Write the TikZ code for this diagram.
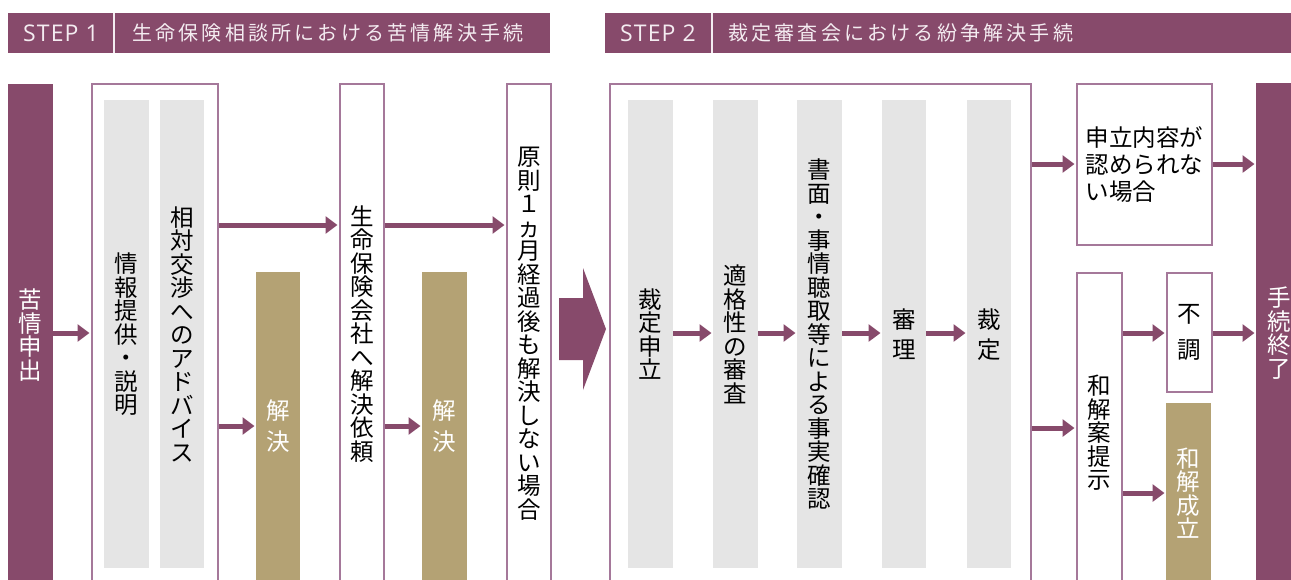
\documentclass[tikz,border=0pt]{standalone}
\usepackage{fontspec}
\setmainfont{Noto Sans CJK JP}
\newfontfamily\headfont[LetterSpace=16]{Noto Sans CJK JP}
\newfontfamily\stepfont[LetterSpace=5]{Open Sans}
\usetikzlibrary{arrows.meta,positioning}

\definecolor{plum}{HTML}{874A6B}
\definecolor{plumline}{HTML}{A5789A}
\definecolor{sand}{HTML}{B4A274}
\definecolor{pale}{HTML}{E5E5E5}
\definecolor{headtext}{HTML}{F4ECF1}

\newcommand\vfont{\fontsize{23.5}{23.5}\selectfont\lineskiplimit=-50pt\relax}

\tikzset{
  sz/.style 2 args={minimum width=#1pt, minimum height=#2pt},
  box/.style={anchor=north west, inner sep=0pt, align=center, font=\vfont, text=black},
  frame/.style={box, draw=plumline, line width=1.5pt, fill=white},
  grey/.style={box, fill=pale},
  gold/.style={box, fill=sand, text=white},
  plumbox/.style={box, fill=plum, text=white},
  arr/.style={draw=plum, line width=5pt, -{Triangle[length=12pt,width=17pt]}, shorten >=1.5pt},
  steplabel/.style={text=headtext, inner sep=0pt, font=\stepfont\fontsize{23}{23}\selectfont},
  titlelabel/.style={text=headtext, inner sep=0pt, anchor=west, font=\headfont\fontsize{20}{20}\selectfont}
}

\begin{document}
\begin{tikzpicture}[x=1pt, y=-1pt]
  \useasboundingbox (0,0) rectangle (1291,579);

  \node[box, fill=plum, sz={542}{40}] (head1) at (8,13) {};
  \node[box, fill=plum, sz={700}{40}] (head2) at (605,13) {};
  \draw[headtext, line width=1.5pt] (114,13) -- (114,53) (712,13) -- (712,53);
  \node[steplabel] (step1) at (61,33) {STEP 1};
  \node[titlelabel] (title1) at (132,33) {生命保険相談所における苦情解決手続};
  \node[steplabel] (step2) at (658,33) {STEP 2};
  \node[titlelabel] (title2) at (728,33) {裁定審査会における紛争解決手続};

  \node[plumbox, sz={45}{502}] (kujo) at (8,84) {苦\\情\\申\\出};
  \node[frame, sz={126}{500}] (box1) at (91,83) {};
  \node[grey, sz={45}{468}] (joho) at (104,100) {情\\報\\提\\供\\・\\説\\明};
  \node[grey, sz={44}{468}] (sotai) at (160,100) {相\\対\\交\\渉\\へ\\の\\ア\\ド\\バ\\イ\\ス};
  \node[gold, sz={44}{308}] (kai1) at (256,272) {解\\[8pt]決};
  \node[frame, sz={44}{500}] (kaisha) at (339,83) {生\\命\\保\\険\\会\\社\\へ\\解\\決\\依\\頼};
  \node[gold, sz={45}{308}] (kai2) at (422,272) {解\\[8pt]決};
  \node[frame, sz={44}{500}] (gensoku) at (506,83) {原\\則\\１\\ヵ\\月\\経\\過\\後\\も\\解\\決\\し\\な\\い\\場\\合};

  \fill[plum] (559,298) -- (583,298) -- (583,268) -- (606,329) -- (583,390) -- (583,360) -- (559,360) -- cycle;

  \node[frame, sz={421}{500}] (panel) at (609,83) {};
  \node[grey, sz={45}{468}] (moushi) at (628,100) {裁\\定\\申\\立};
  \node[grey, sz={45}{468}] (tekikaku) at (713,100) {適\\格\\性\\の\\審\\査};
  \node[grey, sz={45}{468}] (shomen) at (797,100) {書\\面\\・\\事\\情\\聴\\取\\等\\に\\よ\\る\\事\\実\\確\\認};
  \node[grey, sz={44}{468}] (shinri) at (882,100) {審\\[6.5pt]理};
  \node[grey, sz={44}{468}] (saitei) at (967,100) {裁\\[6.5pt]定};

  \node[frame, sz={135}{161}, align=left, font=\fontsize{23.5}{27}\selectfont] (fuyo) at (1076,83) {申立内容が\\認められな\\い場合};
  \node[frame, sz={45}{320}] (wakai) at (1076,272) {和\\解\\案\\提\\示};
  \node[frame, sz={45}{119}] (fucho) at (1166,272) {不\\[13pt]調};
  \node[gold, sz={45}{180}] (seiritsu) at (1166,403) {和\\解\\成\\立};
  \node[plumbox, sz={46}{500}] (owari) at (1256,83) {手\\続\\終\\了};

  \coordinate (rowT) at (0,164);
  \coordinate (rowA) at (0,225);
  \coordinate (rowM) at (0,333);
  \coordinate (rowB) at (0,426);
  \coordinate (rowW) at (0,428);
  \coordinate (rowS) at (0,493);

  \draw[arr] (kujo.east |- rowM) -- (box1.west |- rowM);
  \draw[arr] (box1.east |- rowA) -- (kaisha.west |- rowA);
  \draw[arr] (box1.east |- rowB) -- (kai1.west |- rowB);
  \draw[arr] (kaisha.east |- rowA) -- (gensoku.west |- rowA);
  \draw[arr] (kaisha.east |- rowB) -- (kai2.west |- rowB);
  \foreach \a/\b in {moushi/tekikaku, tekikaku/shomen, shomen/shinri, shinri/saitei}
    \draw[arr] (\a.east |- rowM) -- (\b.west |- rowM);
  \draw[arr] (panel.east |- rowT) -- (fuyo.west |- rowT);
  \draw[arr] (fuyo.east |- rowT) -- (owari.west |- rowT);
  \draw[arr] (panel.east |- rowW) -- (wakai.west |- rowW);
  \draw[arr] (wakai.east |- rowM) -- (fucho.west |- rowM);
  \draw[arr] (fucho.east |- rowM) -- (owari.west |- rowM);
  \draw[arr] (wakai.east |- rowS) -- (seiritsu.west |- rowS);
\end{tikzpicture}
\end{document}
